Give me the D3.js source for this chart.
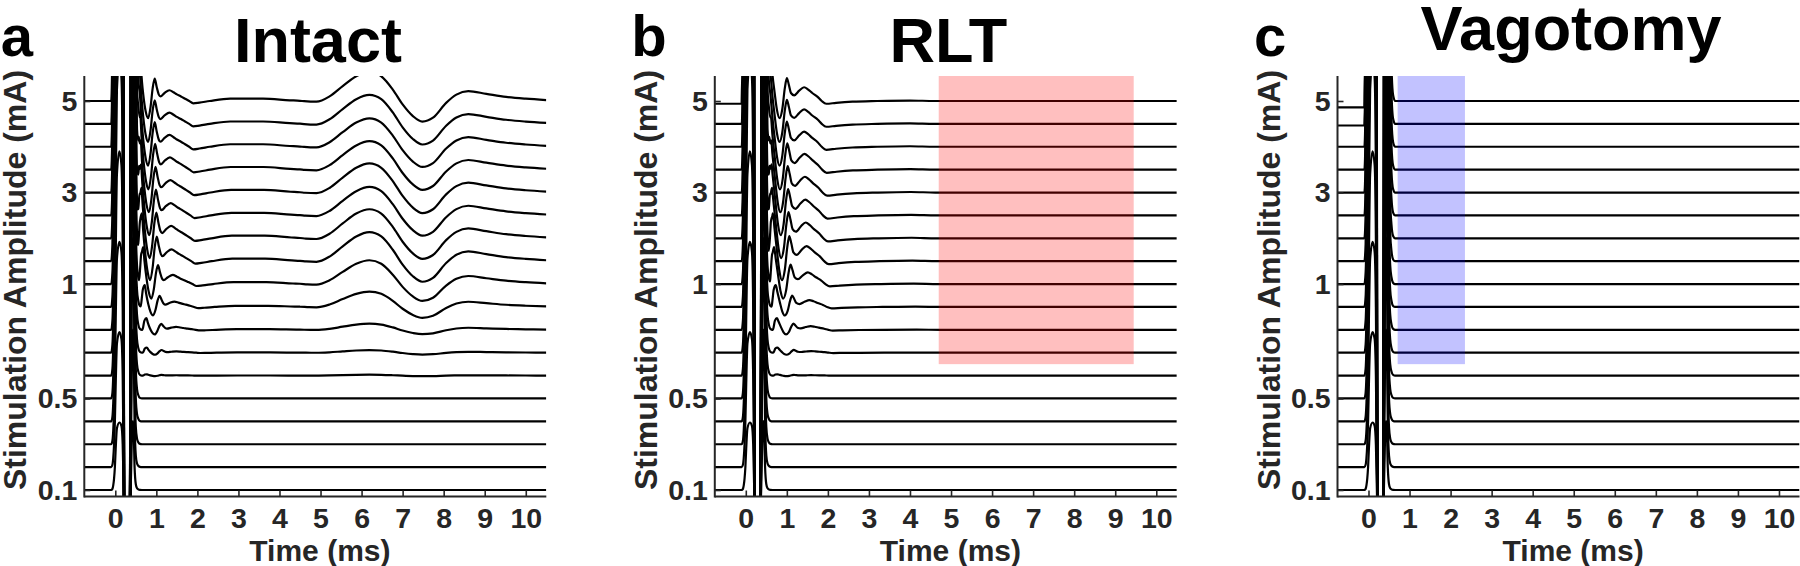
<!DOCTYPE html>
<html><head><meta charset="utf-8">
<script src="https://cdn.jsdelivr.net/npm/d3@7"></script>
<style>
html,body{margin:0;padding:0;background:#fff;}
svg{display:block;}
text{font-family:"Liberation Sans", Arial, Helvetica, sans-serif;font-weight:bold;}
</style></head><body>
<svg id="chart" width="1800" height="566"></svg>
<script>
// ---------------- data ----------------
const amplitudes = [5,4.5,4,3.5,3,2.5,2,1.5,1,0.9,0.8,0.7,0.6,0.5,0.4,0.3,0.2,0.1]; // mA, one trace each
const yTickValues = [5,3,1,0.5,0.1];
const xTickValues = [0,1,2,3,4,5,6,7,8,9,10];
const timeDomain = [-0.755, 10.5]; // ms
const panelLetters = ["a","b","c"];
const panelTitles = ["Intact","RLT","Vagotomy"];

// stimulus artifact (trace-spacing units per mA, positive = up)
const artifactT = [-0.10,-0.07,-0.05,-0.03,-0.01,0.01,0.04,0.10,0.15,0.18,0.205,0.23,0.25,0.32,0.355,0.375,0.40,0.42,0.44,0.47,0.50,0.53,0.56,0.60,0.65];
const artifactV = [0,0.5,2,5,10,18,27,29.5,28,20,0,-20,-30,-30,-10,0,20,30,30,10,2.5,0.8,0.3,0.05,0];

// early (A-fibre) compound action potential, Intact
const earlyT_intact = [0.50,0.55,0.60,0.63,0.68,0.74,0.80,0.86,0.91,0.96,1.01,1.06,1.10,1.20,1.32,1.42,1.50,1.60,1.70,1.80,1.90,2.05,2.30,2.80,3.60,4.25,4.60];
const earlyV_intact = [0,1.5,1.9,1.2,0.3,-0.45,-0.75,-0.25,0.55,0.98,0.6,0.28,0.2,0.35,0.47,0.38,0.29,0.2,0.1,0,-0.1,-0.07,0,0.1,0.1,0.03,0];
const earlyGain_intact  = [1.0,1.05,1.1,1.15,1.15,1.15,1.15,1.1,0.85,0.5,0.27,0.12,0.03,0,0,0,0,0];
const earlyShift_intact = [0,0,0,0.01,0.02,0.03,0.04,0.05,0.08,0.12,0.16,0.17,0.17,0,0,0,0,0];

// early response, RLT
const earlyT_rlt = [0.50,0.55,0.60,0.64,0.70,0.76,0.82,0.89,0.95,1.00,1.05,1.10,1.18,1.30,1.42,1.52,1.62,1.75,1.85,1.96,2.20,2.60,3.20,4.00,4.60];
const earlyV_rlt = [0,1.5,1.9,1.3,0.4,-0.4,-0.75,-0.35,0.55,1.0,0.7,0.35,0.25,0.45,0.6,0.5,0.35,0.18,0,-0.12,-0.08,-0.03,0,0.02,0];
const earlyGain_rlt  = [1.0,1.05,1.1,1.15,1.15,1.15,1.15,1.1,0.85,0.5,0.27,0.12,0.03,0,0,0,0,0];
const earlyShift_rlt = [0,0,0,0.01,0.02,0.03,0.04,0.06,0.09,0.13,0.16,0.17,0.17,0,0,0,0,0];

// early response, Vagotomy (none)
const earlyGain_vag  = [0,0,0,0,0,0,0,0,0,0,0,0,0,0,0,0,0,0];
const earlyShift_vag = [0,0,0,0,0,0,0,0,0,0,0,0,0,0,0,0,0,0];

// late (B-fibre) response
const lateT = [4.5,4.9,5.22,5.54,5.87,6.19,6.48,6.76,7.0,7.25,7.48,7.74,8.06,8.31,8.6,9.04,9.52,10.0,10.5];
const lateV = [0,-0.03,0.2,0.65,1.08,1.27,1.08,0.5,-0.15,-0.66,-0.9,-0.73,-0.08,0.28,0.43,0.31,0.18,0.1,0.04];
const lateGain_intact = [1.0,1.0,0.98,0.98,1.0,0.98,1.0,1.0,0.82,0.53,0.21,0.09,0.03,0,0,0,0,0];
const lateGain_rlt    = [0,0,0,0,0,0,0,0,0,0,0,0,0,0,0,0,0,0];
const lateGain_vag    = [0,0,0,0,0,0,0,0,0,0,0,0,0,0,0,0,0,0];

// pre-stimulus baseline offset (units)
const preOffset_intact = [0,0,0,0,0,0,0,0,0,0,0,0,0,0,0,0,0,0];
const preOffset_rlt    = [-0.12,0,0,0,0,0,0,0,0,0,0,0,0,0,0,0,0,0];
const preOffset_vag    = [-0.28,-0.07,0,0,0,0,0,0,0,0,0,0,0,0,0,0,0,0];

// highlighted windows (ms) and the lowest amplitude they cover
const windowRLT = [4.7, 9.45];
const windowVag = [0.71, 2.35];
const windowLowAmp = [0.7, 0.6];

// ---------------- layout ----------------
const panelLeft = [84.3, 714.8, 1337.5];
const panelWidth = 462;
const plotTop = 76, plotBottom = 496.5;
const traceRange = [101, 490];
const titleBaseline = [61.7, 61.7, 49.5];
const axisColor = "#262626";

const panels = [
  {eT: earlyT_intact, eV: earlyV_intact, g: earlyGain_intact, s: earlyShift_intact, lg: lateGain_intact, pre: preOffset_intact, win: null},
  {eT: earlyT_rlt, eV: earlyV_rlt, g: earlyGain_rlt, s: earlyShift_rlt, lg: lateGain_rlt, pre: preOffset_rlt, win: {t: windowRLT, color: "#ff0000", op: 0.25}},
  {eT: earlyT_rlt, eV: earlyV_rlt, g: earlyGain_vag, s: earlyShift_vag, lg: lateGain_vag, pre: preOffset_vag, win: {t: windowVag, color: "#0000ff", op: 0.24}}
];

const svg = d3.select("#chart");
const defs = svg.append("defs");

function evalPw(T, V, t) {
  if (t < T[0] || t > T[T.length-1]) return 0;
  for (let k = 0; k < T.length-1; k++) {
    if (t >= T[k] && t <= T[k+1]) {
      const f = (t - T[k]) / (T[k+1] - T[k]);
      return V[k] + f * (V[k+1] - V[k]);
    }
  }
  return V[V.length-1];
}

const y = d3.scalePoint().domain(amplitudes).range(traceRange);
const step = y.step();

panels.forEach((p, pi) => {
  const left = panelLeft[pi];
  const x = d3.scaleLinear().domain(timeDomain).range([left, left + panelWidth]);
  const g = svg.append("g");

  const clipId = "clip" + pi;
  defs.append("clipPath").attr("id", clipId).append("rect")
    .attr("x", left).attr("y", plotTop).attr("width", panelWidth).attr("height", plotBottom - plotTop);

  const traces = g.append("g").attr("clip-path", `url(#${clipId})`);

  amplitudes.forEach((amp, i) => {
    let times = [timeDomain[0], artifactT[0] - 0.001, ...artifactT, timeDomain[1]];
    if (p.g[i] > 0) times = times.concat(p.eT.map(t => t + p.s[i]));
    if (p.lg[i] > 0) times = times.concat(lateT);
    times = Array.from(new Set(times.map(t => +t.toFixed(4)))).sort((a, b) => a - b)
      .filter(t => t >= timeDomain[0] && t <= timeDomain[1]);
    const pts = times.map(t => {
      let v = amp * evalPw(artifactT, artifactV, t);
      if (p.g[i] > 0) v += p.g[i] * evalPw(p.eT.map(u => u + p.s[i]), p.eV, t);
      if (p.lg[i] > 0) v += p.lg[i] * evalPw(lateT, lateV, t);
      if (t < artifactT[0]) v += p.pre[i];
      return [t, v];
    });
    const line = d3.line()
      .x(d => x(d[0]))
      .y(d => y(amp) - d[1] * step)
      .curve(d3.curveMonotoneX);
    traces.append("path").datum(pts)
      .attr("d", line)
      .attr("fill", "none")
      .attr("stroke", "#000")
      .attr("stroke-width", 2.2)
      .attr("stroke-linejoin", "round");
  });

  // highlighted window
  if (p.win) {
    const yBottom = (y(windowLowAmp[0]) + y(windowLowAmp[1])) / 2;
    g.append("rect")
      .attr("x", x(p.win.t[0])).attr("y", plotTop)
      .attr("width", x(p.win.t[1]) - x(p.win.t[0]))
      .attr("height", yBottom - plotTop)
      .attr("fill", p.win.color).attr("fill-opacity", p.win.op);
  }

  // x axis
  const xAxis = d3.axisBottom(x).tickValues(xTickValues).tickFormat(d3.format("d"))
    .tickSizeInner(-6).tickSizeOuter(0).tickPadding(11);
  const gx = g.append("g").attr("transform", `translate(0,${plotBottom})`).call(xAxis);
  gx.select(".domain").remove();
  gx.selectAll(".tick line").attr("stroke", axisColor).attr("stroke-width", 1.6);
  gx.selectAll(".tick text").attr("fill", axisColor).style("font-size", "28.5px")
    .attr("font-family", null);
  g.append("line").attr("x1", left).attr("x2", left + panelWidth)
    .attr("y1", plotBottom).attr("y2", plotBottom)
    .attr("stroke", axisColor).attr("stroke-width", 2);

  // y axis
  const yAxis = d3.axisLeft(y).tickValues(yTickValues).tickFormat(d => String(d))
    .tickSizeInner(-6).tickSizeOuter(0).tickPadding(7);
  const gy = g.append("g").attr("transform", `translate(${left},0)`).call(yAxis);
  gy.select(".domain").remove();
  gy.selectAll(".tick line").attr("stroke", axisColor).attr("stroke-width", 1.6);
  gy.selectAll(".tick text").attr("fill", axisColor).style("font-size", "28.5px")
    .attr("font-family", null);
  g.append("line").attr("x1", left).attr("x2", left)
    .attr("y1", plotTop).attr("y2", plotBottom + 1)
    .attr("stroke", axisColor).attr("stroke-width", 2);

  // axis labels
  g.append("text").attr("x", (x(5) + left + panelWidth / 2) / 2 + 2).attr("y", 561)
    .attr("text-anchor", "middle").attr("fill", axisColor).style("font-size", "30px")
    .text("Time (ms)");
  g.append("text").attr("transform", `translate(${left - 58},280) rotate(-90)`)
    .attr("text-anchor", "middle").attr("fill", axisColor).style("font-size", "32px")
    .text("Stimulation Amplitude (mA)");

  // title and panel letter
  g.append("text").attr("x", (x(5) + left + panelWidth / 2) / 2).attr("y", titleBaseline[pi])
    .attr("text-anchor", "middle").attr("fill", "#000").style("font-size", "63px")
    .text(panelTitles[pi]);
  g.append("text").attr("x", left - 83.5).attr("y", 56)
    .attr("fill", "#000").style("font-size", "58px")
    .text(panelLetters[pi]);
});
</script>
</body></html>
